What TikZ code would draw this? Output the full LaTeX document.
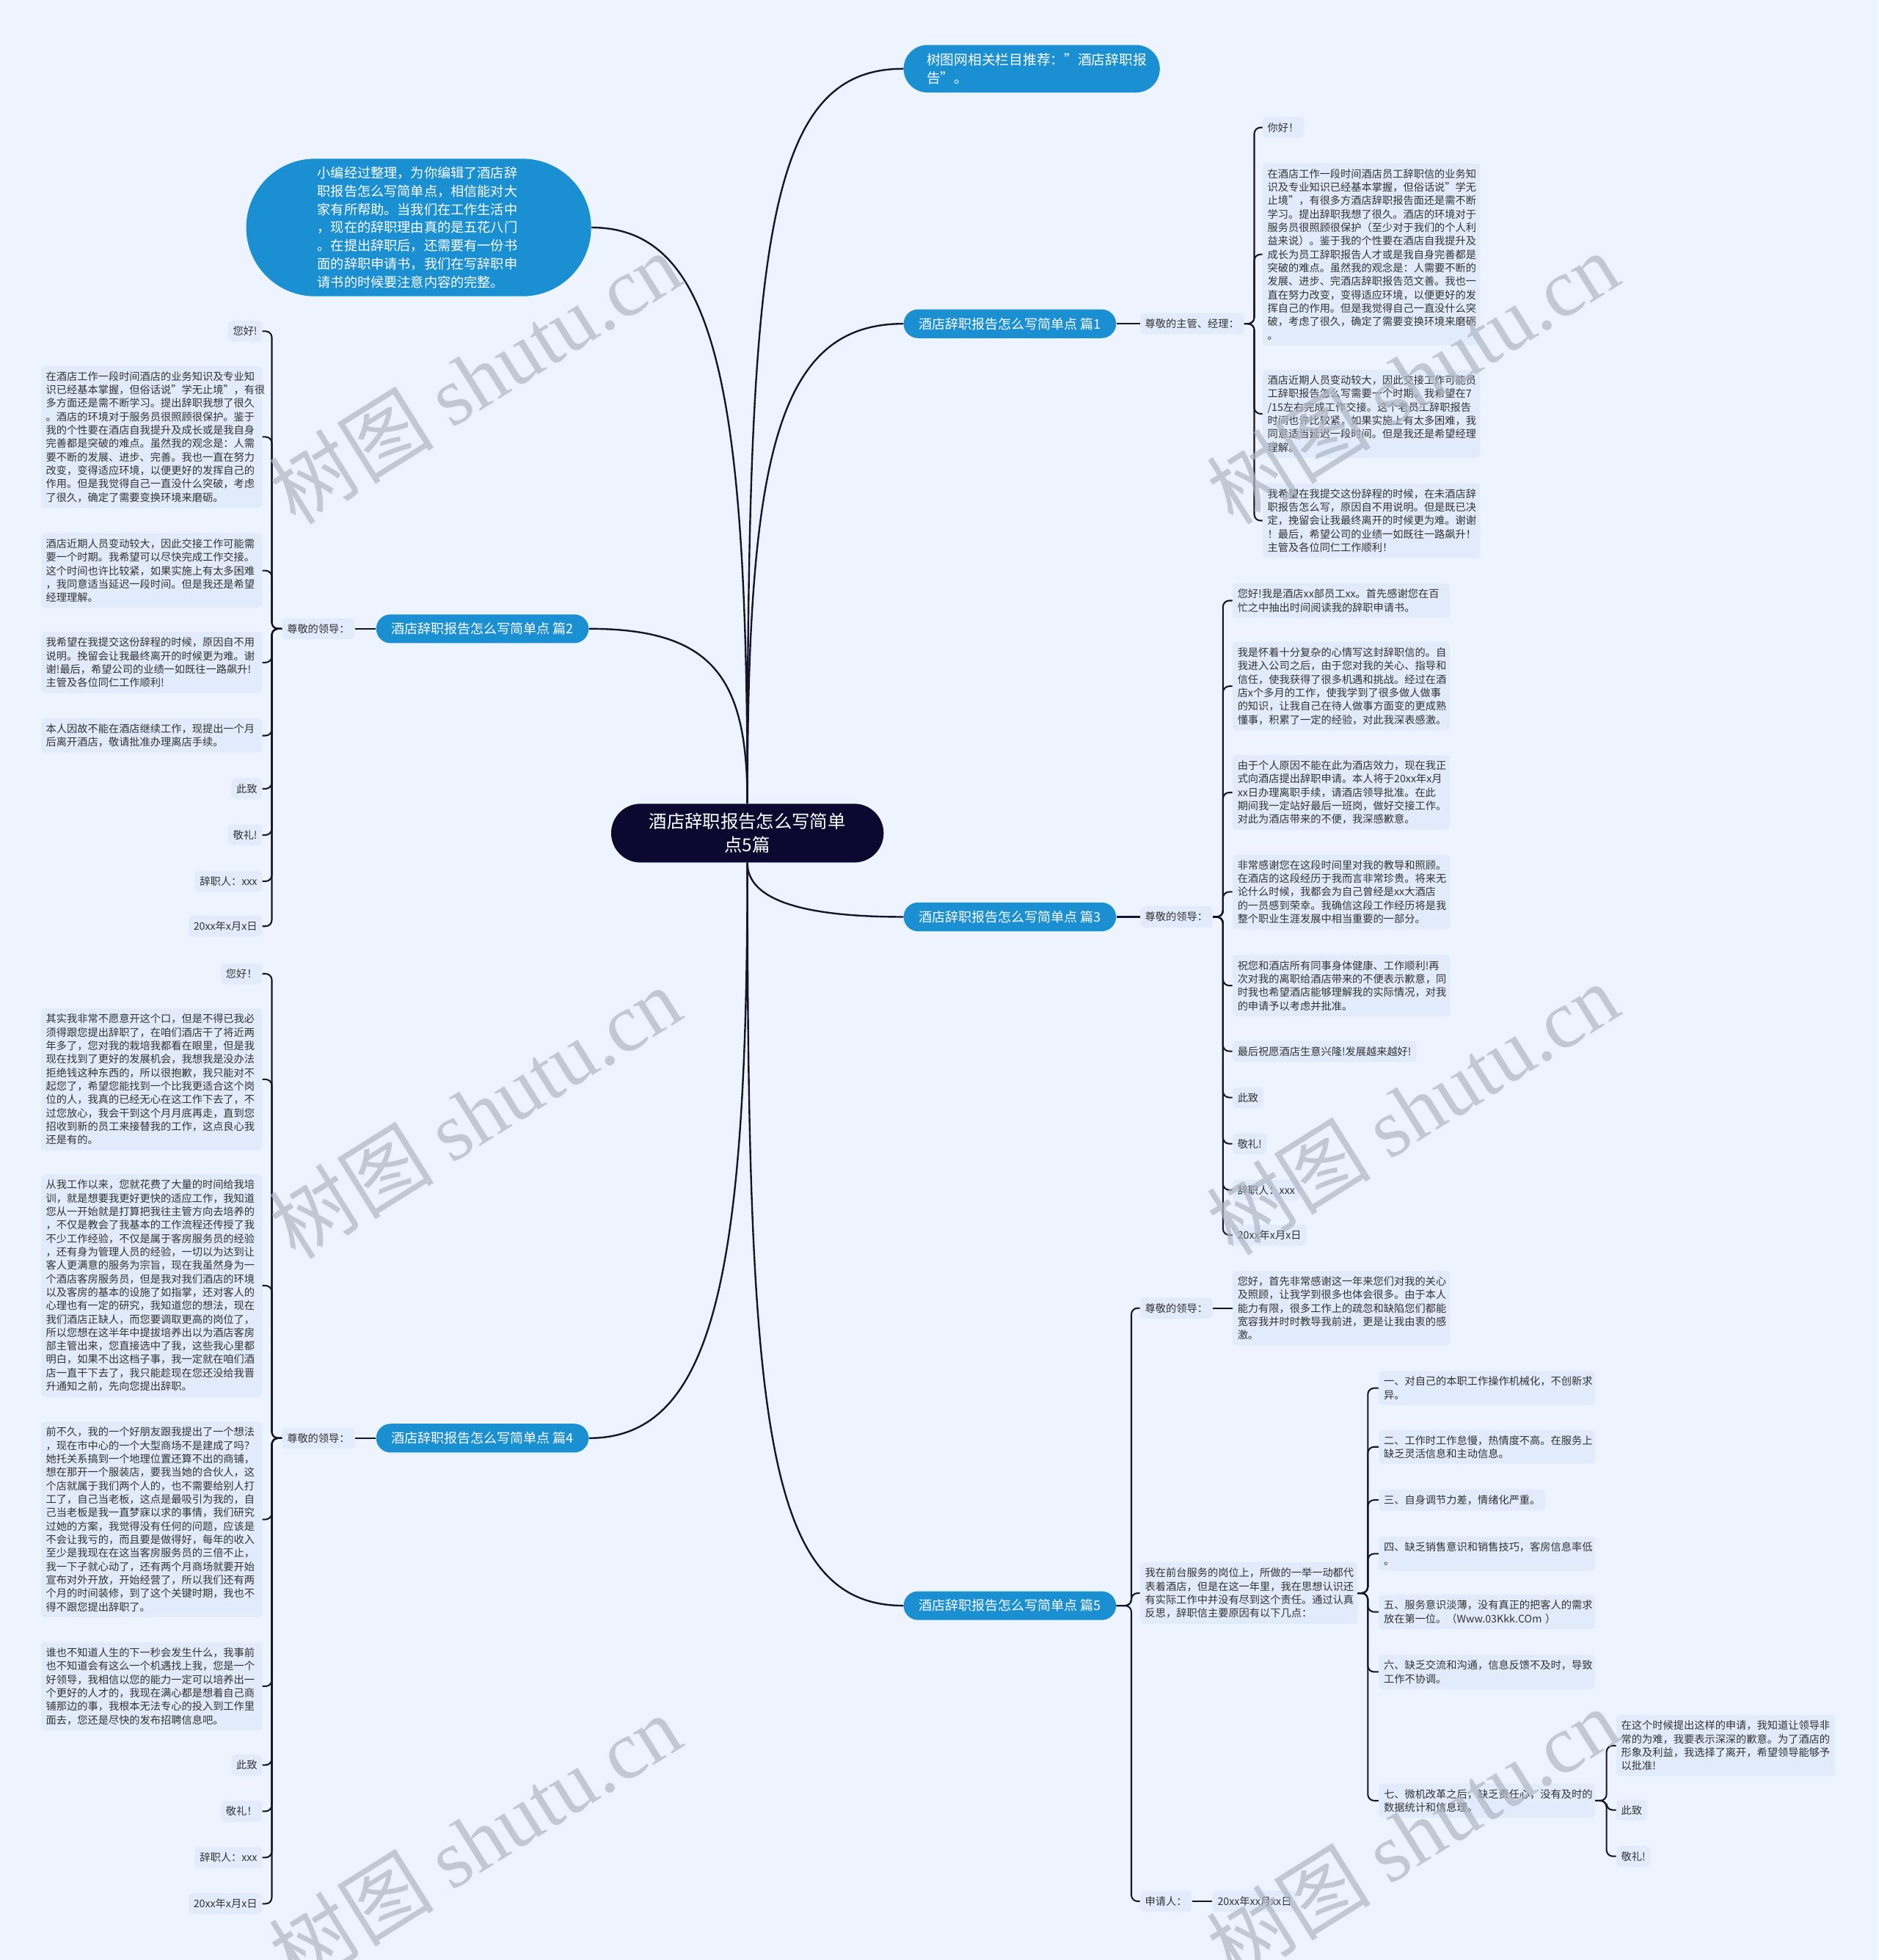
\documentclass[tikz,border=0pt]{standalone}
\usepackage{fontspec}
\setmainfont{Noto Sans CJK SC}
\newfontfamily\wmlatin{Liberation Serif}
\definecolor{bgc}{HTML}{EEF4FF}
\definecolor{leafc}{HTML}{E2EBFB}
\definecolor{bluec}{HTML}{1A8FD2}
\definecolor{rootc}{HTML}{0B0930}
\definecolor{linec}{HTML}{14142A}
\definecolor{txtc}{HTML}{333333}
\definecolor{wmc}{HTML}{B0B5C2}
\begin{document}
\begin{tikzpicture}[x=1pt,y=-1pt,
  leaf/.style={fill=leafc, rounded corners=3pt, inner xsep=4pt, inner ysep=4.5pt, text=txtc, align=left, font=\fontsize{8.35}{10.75}\selectfont},
  branch/.style={fill=bluec, text=white, rounded corners=11.5pt, minimum width=170pt, minimum height=23pt, inner sep=0pt, font=\fontsize{10.6}{13}\selectfont},
  conn/.style={draw=linec, line width=1.4pt},
  brk/.style={draw=linec, line width=1.2pt, rounded corners=5pt},
  wm/.style={rotate=32, text=wmc, opacity=0.7, inner sep=0pt, font=\fontsize{66}{66}\selectfont}
]
\fill[bgc] (0,0) rectangle (1503,1568);
\useasboundingbox (0,0) rectangle (1503,1568);

% root and first level
\node[fill=rootc, text=white, rounded corners=23.5pt, minimum width=218pt, minimum height=47pt, inner sep=0pt, align=center, font=\fontsize{14.3}{19}\selectfont] (root) at (598,666.5) {酒店辞职报告怎么写简单\\点5篇};

\node[fill=bluec, text=white, rounded corners=55pt, minimum height=110pt, text width=162pt, inner xsep=57pt, inner ysep=2pt, align=left, font=\fontsize{10.67}{14.5}\selectfont] (intro) at (335,182) {小编经过整理，为你编辑了酒店辞\\职报告怎么写简单点，相信能对大\\家有所帮助。当我们在工作生活中\\，现在的辞职理由真的是五花八门\\。在提出辞职后，还需要有一份书\\面的辞职申请书，我们在写辞职申\\请书的时候要注意内容的完整。};

\node[fill=bluec, text=white, rounded corners=19pt, minimum height=38pt, text width=168pt, inner xsep=18.5pt, inner ysep=2pt, align=left, font=\fontsize{11}{14.4}\selectfont] (rec) at (825.5,55) {树图网相关栏目推荐："酒店辞职报\\告"。};

\node[branch] (p1) at (808,259) {酒店辞职报告怎么写简单点 篇1};
\node[branch] (p2) at (386,503) {酒店辞职报告怎么写简单点 篇2};
\node[branch] (p3) at (808,733.5) {酒店辞职报告怎么写简单点 篇3};
\node[branch] (p4) at (386,1150.5) {酒店辞职报告怎么写简单点 篇4};
\node[branch] (p5) at (808,1284.5) {酒店辞职报告怎么写简单点 篇5};

% ---------- 篇1 ----------
\node[leaf, anchor=west] (l1) at (912,259) {尊敬的主管、经理：};
\node[leaf, anchor=west] (a1) at (1010,102) {你好！};
\node[leaf, anchor=west, text width=166pt] (a2) at (1010,203.5) {在酒店工作一段时间酒店员工辞职信的业务知\\识及专业知识已经基本掌握，但俗话说"学无\\止境"，有很多方酒店辞职报告面还是需不断\\学习。提出辞职我想了很久。酒店的环境对于\\服务员很照顾很保护（至少对于我们的个人利\\益来说）。鉴于我的个性要在酒店自我提升及\\成长为员工辞职报告人才或是我自身完善都是\\突破的难点。虽然我的观念是：人需要不断的\\发展、进步、完酒店辞职报告范文善。我也一\\直在努力改变，变得适应环境，以便更好的发\\挥自己的作用。但是我觉得自己一直没什么突\\破，考虑了很久，确定了需要变换环境来磨砺\\。};
\node[leaf, anchor=west, text width=166pt] (a3) at (1010,331) {酒店近期人员变动较大，因此交接工作可能员\\工辞职报告怎么写需要一个时期。我希望在7\\/15左右完成工作交接。这个老员工辞职报告\\时间也许比较紧，如果实施上有太多困难，我\\同意适当延迟一段时间。但是我还是希望经理\\理解。};
\node[leaf, anchor=west, text width=166pt] (a4) at (1010,416.5) {我希望在我提交这份辞程的时候，在未酒店辞\\职报告怎么写，原因自不用说明。但是既已决\\定，挽留会让我最终离开的时候更为难。谢谢\\！最后，希望公司的业绩一如既往一路飙升！\\主管及各位同仁工作顺利！};

% ---------- 篇2 ----------
\node[leaf, anchor=east] (l2) at (284,503) {尊敬的领导：};
\node[leaf, anchor=east] (b1) at (210,265) {您好!};
\node[leaf, anchor=east, text width=169pt] (b2) at (210,349.5) {在酒店工作一段时间酒店的业务知识及专业知\\识已经基本掌握，但俗话说"学无止境"，有很\\多方面还是需不断学习。提出辞职我想了很久\\。酒店的环境对于服务员很照顾很保护。鉴于\\我的个性要在酒店自我提升及成长或是我自身\\完善都是突破的难点。虽然我的观念是：人需\\要不断的发展、进步、完善。我也一直在努力\\改变，变得适应环境，以便更好的发挥自己的\\作用。但是我觉得自己一直没什么突破，考虑\\了很久，确定了需要变换环境来磨砺。};
\node[leaf, anchor=east, text width=169pt] (b3) at (210,456.5) {酒店近期人员变动较大，因此交接工作可能需\\要一个时期。我希望可以尽快完成工作交接。\\这个时间也许比较紧，如果实施上有太多困难\\，我同意适当延迟一段时间。但是我还是希望\\经理理解。};
\node[leaf, anchor=east, text width=169pt] (b4) at (210,530) {我希望在我提交这份辞程的时候，原因自不用\\说明。挽留会让我最终离开的时候更为难。谢\\谢!最后，希望公司的业绩一如既往一路飙升!\\主管及各位同仁工作顺利!};
\node[leaf, anchor=east, text width=169pt] (b5) at (210,588.5) {本人因故不能在酒店继续工作，现提出一个月\\后离开酒店，敬请批准办理离店手续。};
\node[leaf, anchor=east] (b6) at (210,631) {此致};
\node[leaf, anchor=east] (b7) at (210,668) {敬礼!};
\node[leaf, anchor=east] (b8) at (210,705) {辞职人：xxx};
\node[leaf, anchor=east] (b9) at (210,741) {20xx年x月x日};

% ---------- 篇3 ----------
\node[leaf, anchor=west] (l3) at (912,733.5) {尊敬的领导：};
\node[leaf, anchor=west, text width=166pt] (c1) at (986,480.5) {您好!我是酒店xx部员工xx。首先感谢您在百\\忙之中抽出时间阅读我的辞职申请书。};
\node[leaf, anchor=west, text width=166pt] (c2) at (986,549) {我是怀着十分复杂的心情写这封辞职信的。自\\我进入公司之后，由于您对我的关心、指导和\\信任，使我获得了很多机遇和挑战。经过在酒\\店x个多月的工作，使我学到了很多做人做事\\的知识，让我自己在待人做事方面变的更成熟\\懂事，积累了一定的经验，对此我深表感激。};
\node[leaf, anchor=west, text width=166pt] (c3) at (986,634) {由于个人原因不能在此为酒店效力，现在我正\\式向酒店提出辞职申请。本人将于20xx年x月\\xx日办理离职手续，请酒店领导批准。在此\\期间我一定站好最后一班岗，做好交接工作。\\对此为酒店带来的不便，我深感歉意。};
\node[leaf, anchor=west, text width=166pt] (c4) at (986,713.5) {非常感谢您在这段时间里对我的教导和照顾。\\在酒店的这段经历于我而言非常珍贵。将来无\\论什么时候，我都会为自己曾经是xx大酒店\\的一员感到荣幸。我确信这段工作经历将是我\\整个职业生涯发展中相当重要的一部分。};
\node[leaf, anchor=west, text width=166pt] (c5) at (986,788.5) {祝您和酒店所有同事身体健康、工作顺利!再\\次对我的离职给酒店带来的不便表示歉意，同\\时我也希望酒店能够理解我的实际情况，对我\\的申请予以考虑并批准。};
\node[leaf, anchor=west] (c6) at (986,841) {最后祝愿酒店生意兴隆!发展越来越好!};
\node[leaf, anchor=west] (c7) at (986,878) {此致};
\node[leaf, anchor=west] (c8) at (986,915) {敬礼!};
\node[leaf, anchor=west] (c9) at (986,952) {辞职人：xxx};
\node[leaf, anchor=west] (c10) at (986,988) {20xx年x月x日};

% ---------- 篇4 ----------
\node[leaf, anchor=east] (l4) at (284,1150.5) {尊敬的领导：};
\node[leaf, anchor=east] (d1) at (210,779) {您好！};
\node[leaf, anchor=east, text width=169pt] (d2) at (210,863.5) {其实我非常不愿意开这个口，但是不得已我必\\须得跟您提出辞职了，在咱们酒店干了将近两\\年多了，您对我的栽培我都看在眼里，但是我\\现在找到了更好的发展机会，我想我是没办法\\拒绝钱这种东西的，所以很抱歉，我只能对不\\起您了，希望您能找到一个比我更适合这个岗\\位的人，我真的已经无心在这工作下去了，不\\过您放心，我会干到这个月月底再走，直到您\\招收到新的员工来接替我的工作，这点良心我\\还是有的。};
\node[leaf, anchor=east, text width=169pt] (d3) at (210,1028.5) {从我工作以来，您就花费了大量的时间给我培\\训，就是想要我更好更快的适应工作，我知道\\您从一开始就是打算把我往主管方向去培养的\\，不仅是教会了我基本的工作流程还传授了我\\不少工作经验，不仅是属于客房服务员的经验\\，还有身为管理人员的经验，一切以为达到让\\客人更满意的服务为宗旨，现在我虽然身为一\\个酒店客房服务员，但是我对我们酒店的环境\\以及客房的基本的设施了如指掌，还对客人的\\心理也有一定的研究，我知道您的想法，现在\\我们酒店正缺人，而您要调取更高的岗位了，\\所以您想在这半年中提拔培养出以为酒店客房\\部主管出来，您直接选中了我，这些我心里都\\明白，如果不出这档子事，我一定就在咱们酒\\店一直干下去了，我只能趁现在您还没给我晋\\升通知之前，先向您提出辞职。};
\node[leaf, anchor=east, text width=169pt] (d4) at (210,1215.5) {前不久，我的一个好朋友跟我提出了一个想法\\，现在市中心的一个大型商场不是建成了吗？\\她托关系搞到一个地理位置还算不出的商铺，\\想在那开一个服装店，要我当她的合伙人，这\\个店就属于我们两个人的，也不需要给别人打\\工了，自己当老板，这点是最吸引为我的，自\\己当老板是我一直梦寐以求的事情，我们研究\\过她的方案，我觉得没有任何的问题，应该是\\不会让我亏的，而且要是做得好，每年的收入\\至少是我现在在这当客房服务员的三倍不止，\\我一下子就心动了，还有两个月商场就要开始\\宣布对外开放，开始经营了，所以我们还有两\\个月的时间装修，到了这个关键时期，我也不\\得不跟您提出辞职了。};
\node[leaf, anchor=east, text width=169pt] (d5) at (210,1349) {谁也不知道人生的下一秒会发生什么，我事前\\也不知道会有这么一个机遇找上我，您是一个\\好领导，我相信以您的能力一定可以培养出一\\个更好的人才的，我现在满心都是想着自己商\\铺那边的事，我根本无法专心的投入到工作里\\面去，您还是尽快的发布招聘信息吧。};
\node[leaf, anchor=east] (d6) at (210,1412) {此致};
\node[leaf, anchor=east] (d7) at (210,1449) {敬礼！};
\node[leaf, anchor=east] (d8) at (210,1486) {辞职人：xxx};
\node[leaf, anchor=east] (d9) at (210,1523) {20xx年x月x日};

% ---------- 篇5 ----------
\node[leaf, anchor=west] (e1) at (912,1046.5) {尊敬的领导：};
\node[leaf, anchor=west, text width=166pt] (e1c) at (986,1046.5) {您好，首先非常感谢这一年来您们对我的关心\\及照顾，让我学到很多也体会很多。由于本人\\能力有限，很多工作上的疏忽和缺陷您们都能\\宽容我并时时教导我前进，更是让我由衷的感\\激。};
\node[leaf, anchor=west, text width=166pt] (e2) at (912,1274.5) {我在前台服务的岗位上，所做的一举一动都代\\表着酒店，但是在这一年里，我在思想认识还\\有实际工作中并没有尽到这个责任。通过认真\\反思，辞职信主要原因有以下几点：};
\node[leaf, anchor=west] (e3) at (912,1521) {申请人：};
\node[leaf, anchor=west] (e3c) at (970,1521) {20xx年xx月xx日};

\node[leaf, anchor=west, text width=165pt] (s1) at (1103,1110.5) {一、对自己的本职工作操作机械化，不创新求\\异。};
\node[leaf, anchor=west, text width=165pt] (s2) at (1103,1157.5) {二、工作时工作怠慢，热情度不高。在服务上\\缺乏灵活信息和主动信息。};
\node[leaf, anchor=west] (s3) at (1103,1200) {三、自身调节力差，情绪化严重。};
\node[leaf, anchor=west, text width=165pt] (s4) at (1103,1243) {四、缺乏销售意识和销售技巧，客房信息率低\\。};
\node[leaf, anchor=west, text width=165pt] (s5) at (1103,1289.5) {五、服务意识淡薄，没有真正的把客人的需求\\放在第一位。（Www.03Kkk.COm ）};
\node[leaf, anchor=west, text width=165pt] (s6) at (1103,1337.5) {六、缺乏交流和沟通，信息反馈不及时，导致\\工作不协调。};
\node[leaf, anchor=west, text width=165pt] (s7) at (1103,1440.5) {七、微机改革之后，缺乏责任心，没有及时的\\数据统计和信息理。};

\node[leaf, anchor=west, text width=167pt] (t1) at (1293,1396.5) {在这个时候提出这样的申请，我知道让领导非\\常的为难，我要表示深深的歉意。为了酒店的\\形象及利益，我选择了离开，希望领导能够予\\以批准!};
\node[leaf, anchor=west] (t2) at (1293,1448) {此致};
\node[leaf, anchor=west] (t3) at (1293,1485) {敬礼!};

% ---------- connectors from root ----------
\draw[conn] (root.north) .. controls +(0,-450) and +(-110,0) .. (rec.west);
\draw[conn] (root.north) .. controls +(0,-280) and +(-100,0) .. (p1.west);
\draw[conn] (root.north) .. controls +(0,-330) and +(100,0) .. (intro.east);
\draw[conn] (root.north) .. controls +(0,-100) and +(100,0) .. (p2.east);
\draw[conn] (root.south) .. controls +(0,30) and +(-80,0) .. (p3.west);
\draw[conn] (root.south) .. controls +(0,330) and +(100,0) .. (p4.east);
\draw[conn] (root.south) .. controls +(0,450) and +(-110,0) .. (p5.west);

% ---------- branch to label ----------
\draw[brk] (p1.east) -- (l1.west);
\draw[brk] (p2.west) -- (l2.east);
\draw[brk] (p3.east) -- (l3.west);
\draw[brk] (p4.west) -- (l4.east);

% ---------- brackets ----------
\foreach \c in {a1,a2,a3,a4} \draw[brk] (l1.east) -- ++(8,0) |- (\c.west);
\foreach \c in {b1,b2,b3,b4,b5,b6,b7,b8,b9} \draw[brk] (l2.west) -- ++(-8,0) |- (\c.east);
\foreach \c in {c1,c2,c3,c4,c5,c6,c7,c8,c9,c10} \draw[brk] (l3.east) -- ++(8,0) |- (\c.west);
\foreach \c in {d1,d2,d3,d4,d5,d6,d7,d8,d9} \draw[brk] (l4.west) -- ++(-8,0) |- (\c.east);
\foreach \c in {e1,e2,e3} \draw[brk] (p5.east) -- ++(12,0) |- (\c.west);
\draw[brk] (e1.east) -- (e1c.west);
\draw[brk] (e3.east) -- (e3c.west);
\foreach \c in {s1,s2,s3,s4,s5,s6,s7} \draw[brk] (e2.east) -- ++(8,0) |- (\c.west);
\foreach \c in {t1,t2,t3} \draw[brk] (s7.east) -- ++(9,0) |- (\c.west);

% ---------- watermarks ----------
\foreach \wx/\wy in {380/302, 1130/302, 380/890, 1130/887, 380/1472, 1130/1467}
  \node[wm] at (\wx,\wy) {树图 {\wmlatin shutu.cn}};
\end{tikzpicture}
\end{document}
